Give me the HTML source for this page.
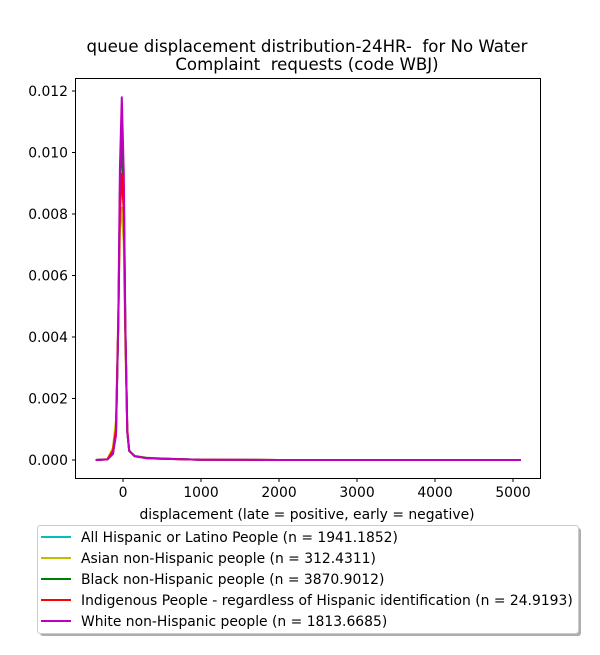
<!DOCTYPE html>
<html><head><meta charset="utf-8"><style>
body{margin:0;background:#fff}
svg{font-family:"DejaVu Sans","Liberation Sans",sans-serif}
text{white-space:pre}
</style></head><body>
<svg id="chart" width="600" height="650" viewBox="0 0 600 650" xmlns="http://www.w3.org/2000/svg">
<rect width="600" height="650" fill="#fff"/>
<text x="307" y="52" text-anchor="middle" font-size="16.6" xml:space="preserve">queue displacement distribution-24HR-  for No Water</text>
<text x="307" y="70" text-anchor="middle" font-size="16.6" xml:space="preserve">Complaint  requests (code WBJ)</text>
<g id="series"></g>
<rect x="75.5" y="78.5" width="465" height="400" fill="none" stroke="#000" stroke-width="1"/>
<g id="xticks"></g><g id="yticks"></g>
<text x="307" y="519" text-anchor="middle" font-size="13.9">displacement (late = positive, early = negative)</text>
<g>
<rect x="40" y="528" width="541" height="108" rx="3" fill="#999" opacity="0.8"/>
<rect x="37.5" y="525.5" width="541" height="108" rx="3" fill="#fff" stroke="#ccc"/>
<g id="legend-items"></g>
</g>
</svg>
<script>
const xTicks=[0,1000,2000,3000,4000,5000];
const yTicks=[0,0.002,0.004,0.006,0.008,0.010,0.012];
const yTickLabels=["0.000","0.002","0.004","0.006","0.008","0.010","0.012"];
const names=["All Hispanic or Latino People (n = 1941.1852)","Asian non-Hispanic people (n = 312.4311)","Black non-Hispanic people (n = 3870.9012)","Indigenous People - regardless of Hispanic identification (n = 24.9193)","White non-Hispanic people (n = 1813.6685)"];
const colors=["#00bfbf","#bfbf00","#008000","#ff0000","#bf00bf"];
const xs=[-350,-200,-130,-90,-60,-40,-15,10,30,55,80,150,300,500,1000,2000,5100];
const cyan=[0,0.00002,0.0002,0.0009,0.0045,0.0088,0.0108,0.0088,0.0045,0.0009,0.0003,0.00012,0.00006,0.00004,0.00001,0,0];
const yellow=[0,0.00003,0.0004,0.0013,0.0048,0.0075,0.0082,0.0070,0.0038,0.0009,0.0003,0.00012,0.00006,0.00004,0.00001,0,0];
const green=[0,0.00002,0.0002,0.0009,0.0044,0.0086,0.0105,0.0086,0.0044,0.0009,0.0003,0.00013,0.00007,0.00005,0.00001,0,0];
const red=[0,0.00002,0.0003,0.0010,0.0045,0.0080,0.0093,0.0080,0.0043,0.0010,0.0003,0.00012,0.00006,0.00004,0.00001,0,0];
const magenta=[0,0.00002,0.0002,0.0008,0.0045,0.0095,0.0118,0.0093,0.0045,0.0009,0.0003,0.00012,0.00006,0.00004,0.00001,0,0];
const seriesData=[cyan,yellow,green,red,magenta];
const NS="http://www.w3.org/2000/svg";
const X=v=>123+v*0.078, Y=v=>460-v*30750;
const sg=document.getElementById('series');
seriesData.forEach((d,i)=>{
 const p=document.createElementNS(NS,'polyline');
 p.setAttribute('points',xs.map((x,j)=>X(x).toFixed(1)+','+Y(d[j]).toFixed(1)).join(' '));
 p.setAttribute('fill','none');p.setAttribute('stroke',colors[i]);p.setAttribute('stroke-width','2');p.setAttribute('stroke-linejoin','round');
 
 
 sg.appendChild(p);
});
const xg=document.getElementById('xticks');
xTicks.forEach(t=>{
 const l=document.createElementNS(NS,'line');l.setAttribute('x1',X(t));l.setAttribute('x2',X(t));l.setAttribute('y1',478.5);l.setAttribute('y2',482);l.setAttribute('stroke','#000');
 
 
 xg.appendChild(l);
 const s=document.createElementNS(NS,'text');s.setAttribute('x',X(t));s.setAttribute('y',497);s.setAttribute('text-anchor','middle');s.setAttribute('font-size','13.9');s.textContent=t;
 
 
 xg.appendChild(s);
});
const yg=document.getElementById('yticks');
yTicks.forEach((t,i)=>{
 const l=document.createElementNS(NS,'line');l.setAttribute('x1',72);l.setAttribute('x2',75.5);l.setAttribute('y1',Y(t));l.setAttribute('y2',Y(t));l.setAttribute('stroke','#000');
 
 
 yg.appendChild(l);
 const s=document.createElementNS(NS,'text');s.setAttribute('x',68);s.setAttribute('y',Y(t)+5);s.setAttribute('text-anchor','end');s.setAttribute('font-size','13.9');s.textContent=yTickLabels[i];
 
 
 yg.appendChild(s);
});
const lg=document.getElementById('legend-items');
names.forEach((n,i)=>{
 const y=537+i*21;
 const l=document.createElementNS(NS,'line');l.setAttribute('x1',41);l.setAttribute('x2',71);l.setAttribute('y1',y);l.setAttribute('y2',y);l.setAttribute('stroke',colors[i]);l.setAttribute('stroke-width','2');
 
 
 lg.appendChild(l);
 const s=document.createElementNS(NS,'text');s.setAttribute('x',81);s.setAttribute('y',y+5);s.setAttribute('font-size','13.9');s.textContent=n;
 
 
 lg.appendChild(s);
});
</script>
</body></html>
